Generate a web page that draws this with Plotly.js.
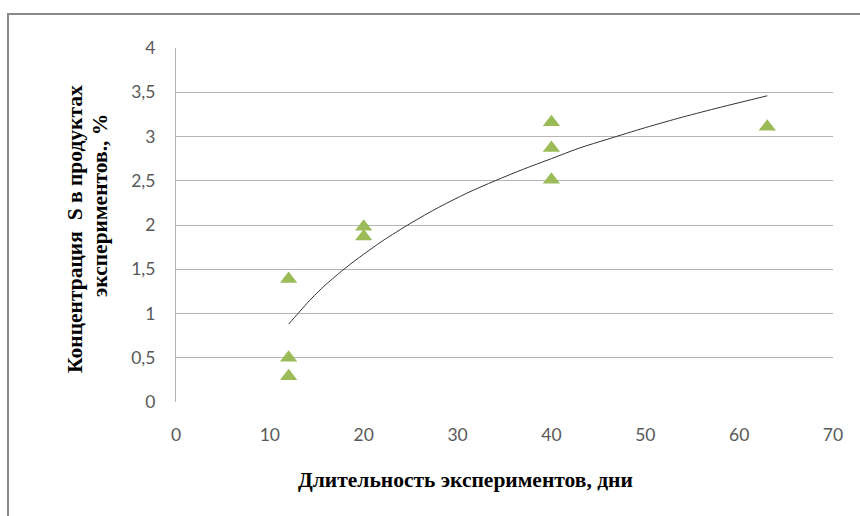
<!DOCTYPE html>
<html><head><meta charset="utf-8">
<script src="https://cdn.plot.ly/plotly-3.0.1.min.js"></script>
<style>
html,body{margin:0;padding:0;background:#fff;}
#wrap{position:relative;width:860px;height:516px;}
#chart{width:860px;height:516px;}
#frame{position:absolute;left:7px;top:13px;width:900px;height:600px;border-left:2px solid #8a8a8a;border-top:2px solid #8a8a8a;pointer-events:none;}
</style></head>
<body>
<div id="wrap"><div id="chart"></div><div id="frame"></div></div>
<script>
// Measured points (days, S concentration %)
const days = [12, 12, 12, 20, 20, 40, 40, 40, 63];
const concentration = [1.39, 0.50, 0.29, 1.98, 1.87, 3.16, 2.87, 2.51, 3.11];
// Trend line
const trendDays = [12, 13, 14, 15, 16, 18, 20, 22, 25, 28, 31, 34, 37, 40, 43, 46, 50, 54, 58, 63];
const trendValues = [0.88, 1.00, 1.12, 1.23, 1.33, 1.51, 1.67, 1.82, 2.02, 2.20, 2.36, 2.50, 2.63, 2.75, 2.87, 2.97, 3.10, 3.22, 3.33, 3.46];
const xTitle = 'Длительность экспериментов, дни';
const yTitleLine1 = 'Концентрация \u00a0S в продуктах';
const yTitleLine2 = 'экспериментов., %';

const traces = [
  {x: trendDays, y: trendValues, type: 'scatter', mode: 'lines',
   line: {color: '#333333', width: 1, shape: 'spline', smoothing: 0.8}, hoverinfo: 'skip'},
  {x: days, y: concentration, type: 'scatter', mode: 'markers',
   marker: {symbol: 'triangle-up', size: 15, color: '#9BBB59', line: {width: 0}}}
];
const tickFont = {family: 'Lato, "Open Sans", sans-serif', size: 17.5, color: '#595959'};
const titleFont = {family: '"Liberation Serif", "Times New Roman", serif', size: 21.5, color: '#000', weight: 'bold'};
const layout = {
  width: 860, height: 516,
  margin: {l: 176, r: 27, t: 48, b: 114},
  paper_bgcolor: 'rgba(0,0,0,0)', plot_bgcolor: '#fff',
  separators: ', ',
  showlegend: false,
  xaxis: {range: [0, 70], dtick: 10, tick0: 0, showgrid: false, zeroline: false,
    showline: false, ticks: '', tickfont: tickFont, ticklabelstandoff: 20},
  yaxis: {range: [0, 4], dtick: 0.5, tick0: 0, showgrid: true, gridcolor: '#b4b4b4', gridwidth: 1,
    zeroline: false, showline: true, linecolor: '#b4b4b4', linewidth: 1, ticks: '',
    tickfont: tickFont, ticklabelstandoff: 16},
  annotations: [
    {text: xTitle, xref: 'paper', yref: 'paper', x: 0.441, y: -0.220,
     xanchor: 'center', yanchor: 'middle', showarrow: false, font: titleFont},
    {text: yTitleLine1, xref: 'paper', yref: 'paper', x: -0.1537, y: 0.4887,
     xanchor: 'center', yanchor: 'middle', textangle: -90, showarrow: false, font: titleFont},
    {text: yTitleLine2, xref: 'paper', yref: 'paper', x: -0.1157, y: 0.5565,
     xanchor: 'center', yanchor: 'middle', textangle: -90, showarrow: false, font: titleFont}
  ]
};
Plotly.newPlot('chart', traces, layout, {displayModeBar: false, staticPlot: true});
</script>
</body></html>
